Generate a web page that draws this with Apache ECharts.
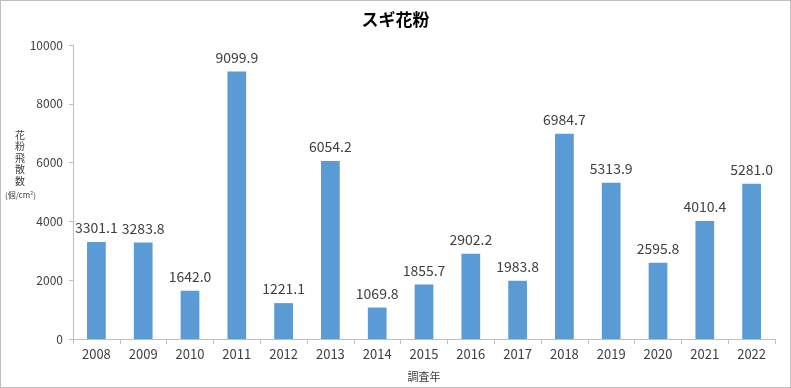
<!DOCTYPE html>
<html><head><meta charset="utf-8">
<script src="https://cdn.jsdelivr.net/npm/echarts@6/dist/echarts.min.js"></script>
<style>html,body{margin:0;padding:0;background:#fff}#c{width:791px;height:388px;box-sizing:border-box;border:1px solid #bfbfbf}</style>
</head><body><div id="c"></div>
<script>
const years = ['2008','2009','2010','2011','2012','2013','2014','2015','2016','2017','2018','2019','2020','2021','2022'];
const pollen = [3301.1,3283.8,1642.0,9099.9,1221.1,6054.2,1069.8,1855.7,2902.2,1983.8,6984.7,5313.9,2595.8,4010.4,5281.0];
const yTicks = [0,2000,4000,6000,8000,10000];

const chart = echarts.init(document.getElementById('c'));
chart.setOption({
  animation:false,
  title:{text:'スギ花粉',left:'center',top:5,textStyle:{fontFamily:'Noto Sans CJK JP',fontSize:17,fontWeight:'bold',color:'#000'}},
  grid:{left:72,right:15,top:44,bottom:47},
  xAxis:{type:'category',data:years,
    name:'調査年',nameLocation:'middle',nameGap:32,
    nameTextStyle:{fontFamily:'Noto Sans CJK JP',fontSize:11,color:'#404040'},
    axisLine:{lineStyle:{color:'#bfbfbf'}},
    axisTick:{show:true,alignWithLabel:false,length:5,lineStyle:{color:'#bfbfbf'}},
    axisLabel:{fontFamily:'Noto Sans CJK JP',fontSize:13,color:'#404040',margin:9}},
  yAxis:{type:'value',min:yTicks[0],max:yTicks[yTicks.length-1],interval:2000,
    axisLine:{show:true,lineStyle:{color:'#bfbfbf'}},
    axisTick:{show:true,length:4,lineStyle:{color:'#bfbfbf'}},
    splitLine:{show:false},
    axisLabel:{fontFamily:'Noto Sans CJK JP',fontSize:12,color:'#404040',margin:10,formatter:v=>String(v)}},
  graphic:[
    {type:'text',left:14,top:128,style:{text:'花\n粉\n飛\n散\n数',font:'10px "Noto Sans CJK JP"',fill:'#404040',lineHeight:11.5}},
    {type:'text',left:4,top:190,style:{text:'(個/cm²)',font:'8px "Noto Sans CJK JP"',fill:'#404040'}}
  ],
  series:[{type:'bar',data:pollen,barWidth:'40%',
    itemStyle:{color:'#5b9bd5'},
    label:{show:true,position:'top',distance:7,fontFamily:'Noto Sans CJK JP',fontSize:14,color:'#404040',
      formatter:p=>p.value.toFixed(1)}}]
});
</script></body></html>
